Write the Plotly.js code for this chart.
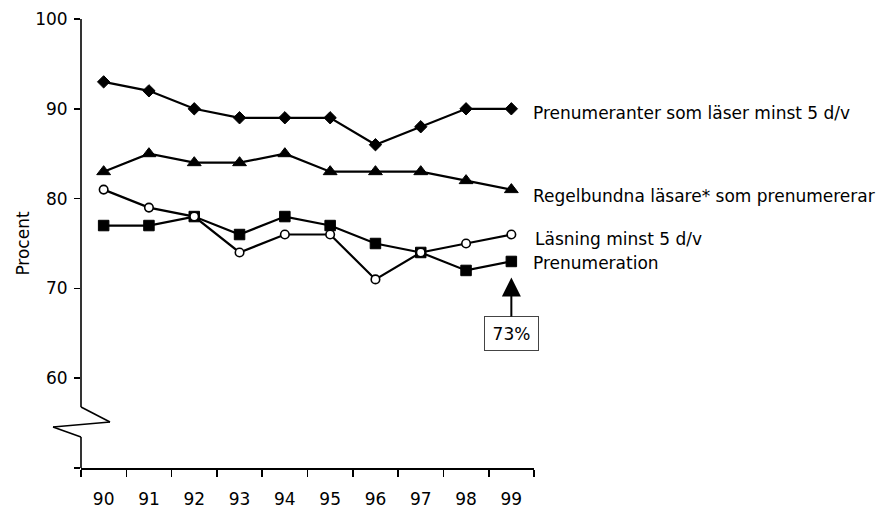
<!DOCTYPE html>
<html>
<head>
<meta charset="utf-8">
<script src="https://cdn.plot.ly/plotly-3.0.1.min.js"></script>
<style>html,body{margin:0;padding:0;background:#fff}#chart{width:887px;height:508px}</style>
</head>
<body>
<div id="chart"></div>
<script>
const years = ['90','91','92','93','94','95','96','97','98','99'];
const prenumeranterLaser = [93, 92, 90, 89, 89, 89, 86, 88, 90, 90];
const regelbundnaPrenumererar = [83, 85, 84, 84, 85, 83, 83, 83, 82, 81];
const prenumeration = [77, 77, 78, 76, 78, 77, 75, 74, 72, 73];
const lasning = [81, 79, 78, 74, 76, 76, 71, 74, 75, 76];
const seriesNames = ['Prenumeranter som läser minst 5 d/v', 'Regelbundna läsare* som prenumererar', 'Prenumeration', 'Läsning minst 5 d/v'];
const yTickVals = [50, 60, 70, 80, 90, 100];
const yTickText = ['', '60', '70', '80', '90', '100'];
const calloutText = '73%';

const FONT = 'DejaVu Sans, Arial, sans-serif';
const lineStyle = {color: '#000', width: 2.2};

const traces = [
  {x: years, y: prenumeranterLaser, name: seriesNames[0], mode: 'lines+markers', line: lineStyle,
   marker: {symbol: 'diamond', size: 9.5, color: '#000', line: {color: '#000', width: 1}}},
  {x: years, y: regelbundnaPrenumererar, name: seriesNames[1], mode: 'lines+markers', line: lineStyle,
   marker: {symbol: 'triangle-up', size: 12, color: '#000', line: {color: '#000', width: 1}}},
  {x: years, y: prenumeration, name: seriesNames[2], mode: 'lines+markers', line: lineStyle,
   marker: {symbol: 'square', size: 10.5, color: '#000', line: {color: '#000', width: 1}}},
  {x: years, y: lasning, name: seriesNames[3], mode: 'lines+markers', line: lineStyle,
   marker: {symbol: 'circle', size: 8.5, color: '#fff', line: {color: '#000', width: 1.6}}}
];

const last = years.length - 1;
const labelShift = [[-4, 0], [-6, 0], [-2, 0], [-4, 2]];
const labelSeries = [prenumeranterLaser, regelbundnaPrenumererar, prenumeration, lasning];
const annotations = labelSeries.map((s, i) => ({
  x: last, y: s[last], xref: 'x', yref: 'y',
  text: seriesNames[i], showarrow: false, xanchor: 'left', yanchor: 'middle',
  xshift: 20 + labelShift[i][1], yshift: labelShift[i][0],
  font: {family: FONT, size: 17, color: '#000'}
}));
annotations.push({
  x: last, y: prenumeration[last], xref: 'x', yref: 'y',
  text: calloutText, showarrow: true, ax: 0, ay: 72,
  arrowhead: 2, arrowsize: 1.9, arrowwidth: 2, arrowcolor: '#000', standoff: 16,
  bordercolor: '#444', borderwidth: 1, borderpad: 4, bgcolor: '#fff',
  width: 45, height: 25,
  font: {family: FONT, size: 17, color: '#000'}
});

const ax = {color: '#000', width: 1.6};
const shapes = [
  {type: 'line', xref: 'paper', yref: 'paper', x0: 0, x1: 0, y0: 1, y1: 0.1359, line: ax},
  {type: 'line', xref: 'paper', yref: 'paper', x0: 0, y0: 0.1359, x1: 0.064, y1: 0.1024, line: ax},
  {type: 'line', xref: 'paper', yref: 'paper', x0: 0.064, y0: 0.1024, x1: -0.0618, y1: 0.0913, line: ax},
  {type: 'line', xref: 'paper', yref: 'paper', x0: -0.0618, y0: 0.0913, x1: 0, y1: 0.069, line: ax},
  {type: 'line', xref: 'paper', yref: 'paper', x0: 0, x1: 0, y0: 0.069, y1: 0, line: ax}
];

const layout = {
  width: 887, height: 508,
  margin: {l: 81, r: 353, t: 19, b: 40},
  paper_bgcolor: '#fff', plot_bgcolor: '#fff',
  showlegend: false,
  font: {family: FONT, size: 17, color: '#000'},
  xaxis: {
    type: 'category', range: [-0.5, 9.5], tickson: 'boundaries',
    showgrid: false, zeroline: false, showline: true, linecolor: '#000', linewidth: 1.6,
    ticks: 'outside', ticklen: 7, tickwidth: 1.6, tickcolor: '#000',
    tickfont: {family: FONT, size: 17, color: '#000'}, ticklabelstandoff: 15,
    fixedrange: true
  },
  yaxis: {
    range: [50, 100], tickvals: yTickVals, ticktext: yTickText,
    showgrid: false, zeroline: false, showline: false,
    ticks: 'outside', ticklen: 6, tickwidth: 1.6, tickcolor: '#000',
    tickfont: {family: FONT, size: 17, color: '#000'}, ticklabelstandoff: 3,
    title: {text: 'Procent', font: {family: FONT, size: 17, color: '#000'}, standoff: 1},
    fixedrange: true
  },
  shapes: shapes,
  annotations: annotations
};

Plotly.newPlot('chart', traces, layout, {displayModeBar: false, staticPlot: true});
</script>
</body>
</html>
